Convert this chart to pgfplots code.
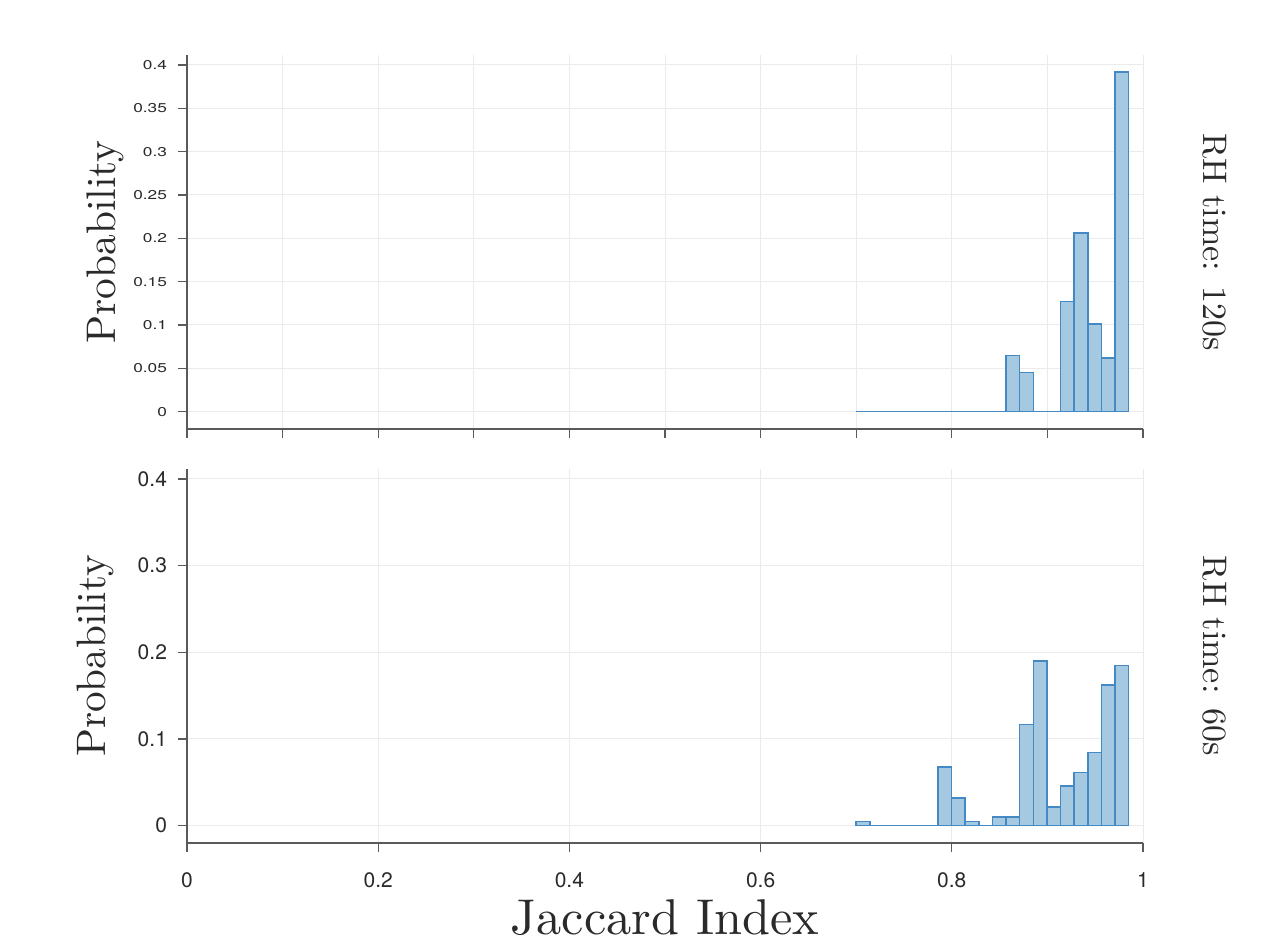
\documentclass[border=0pt]{standalone}
\usepackage{pgfplots}
\pgfplotsset{compat=1.18}
\usepackage{pgfplotstable}
\usepackage{fontspec}
\usepackage{graphicx}
\newfontfamily\tickfont{TeX Gyre Heros}
\definecolor{barfill}{HTML}{A5C9E1}
\definecolor{baredge}{HTML}{4589C4}
\definecolor{spine}{HTML}{5A5A5A}
\definecolor{gridc}{HTML}{EBEBEB}
\definecolor{txt}{HTML}{2A2A2A}

\pgfplotstableread{
x y
0.70000 0
0.71425 0
0.72850 0
0.74275 0
0.75700 0
0.77125 0
0.78550 0
0.79975 0
0.81400 0
0.82825 0
0.84250 0
0.85675 0.065
0.87100 0.045
0.88525 0
0.89950 0
0.91375 0.127
0.92800 0.206
0.94225 0.101
0.95650 0.062
0.97075 0.392
0.98500 0
}\toptable

\pgfplotstableread{
x y
0.70000 0.005
0.71425 0
0.72850 0
0.74275 0
0.75700 0
0.77125 0
0.78550 0.068
0.79975 0.032
0.81400 0.005
0.82825 0
0.84250 0.010
0.85675 0.010
0.87100 0.1165
0.88525 0.190
0.89950 0.0215
0.91375 0.0457
0.92800 0.0615
0.94225 0.0846
0.95650 0.162
0.97075 0.185
0.98500 0
}\bottable

\pgfplotsset{jstyle/.style={
  scale only axis, width=478pt, height=187pt,
  anchor=south west,
  xmin=0, xmax=1, ymin=-0.02, ymax=0.4115,
  axis x line*=bottom, axis y line*=left,
  axis line style={spine, line width=0.6pt, -},
  tick align=outside, major tick length=4.5pt,
  tick style={spine, line width=0.6pt},
  grid=major, major grid style={gridc, line width=0.5pt},
  /pgf/number format/assume math mode=true,
  scaled y ticks=false, scaled x ticks=false,
  yticklabel style={/pgf/number format/fixed, /pgf/number format/precision=2},
}}

\begin{document}
\begin{tikzpicture}
\useasboundingbox (0,0) rectangle (633pt,473pt);

\begin{axis}[jstyle, name=top, at={(93.5pt,258.5pt)},
  xtick={0,0.1,0.2,0.3,0.4,0.5,0.6,0.7,0.8,0.9,1},
  xticklabels={},
  ytick={0,0.05,0.1,0.15,0.2,0.25,0.3,0.35,0.4},
  yticklabel={\scalebox{1.35}[1]{\pgfmathprintnumber{\tick}}},
  ticklabel style={font=\tickfont\fontsize{6.4}{7}\selectfont, text=txt},
  yticklabel style={xshift=-2pt},
]
\addplot[ybar interval, fill=barfill, draw=baredge, line width=0.8pt] table[x=x,y=y] {\toptable};
\end{axis}

\begin{axis}[jstyle, name=bot, at={(93.5pt,51.5pt)},
  xtick={0,0.2,0.4,0.6,0.8,1},
  ytick={0,0.1,0.2,0.3,0.4},
  ticklabel style={font=\tickfont\fontsize{10.5}{12}\selectfont, text=txt},
  xticklabel style={yshift=-7pt},
  yticklabel style={xshift=-2pt},
]
\addplot[ybar interval, fill=barfill, draw=baredge, line width=0.8pt] table[x=x,y=y] {\bottable};
\end{axis}

\node[rotate=90, anchor=base, text=txt, inner sep=0pt] at ([xshift=-35.7pt]top.west) {\resizebox{101.5pt}{!}{Probability}};
\node[rotate=90, anchor=base, text=txt, inner sep=0pt] at ([xshift=-41pt]bot.west) {\resizebox{101pt}{!}{Probability}};
\node[rotate=-90, anchor=base, text=txt, inner sep=0pt] at ([xshift=30pt]top.east) {\resizebox{108.5pt}{!}{RH time: 120s}};
\node[rotate=-90, anchor=base, text=txt, inner sep=0pt] at ([xshift=30pt]bot.east) {\resizebox{100pt}{!}{RH time: 60s}};
\node[anchor=base, text=txt, inner sep=0pt] at ([yshift=-46pt]bot.south) {\resizebox{154pt}{!}{Jaccard Index}};
\end{tikzpicture}
\end{document}
